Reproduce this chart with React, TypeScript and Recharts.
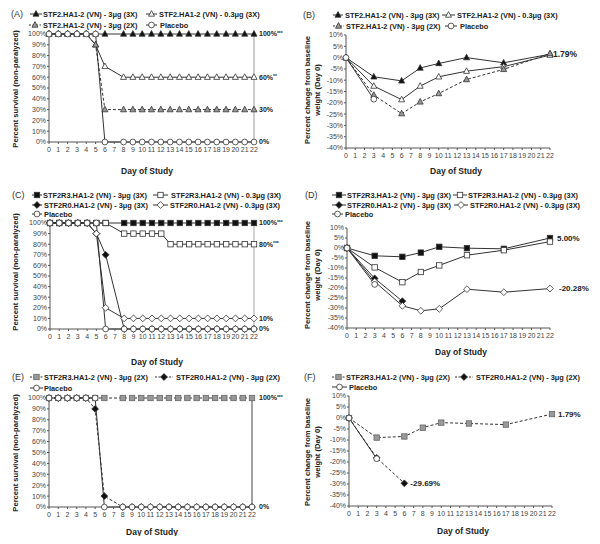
import React from 'react';
import { LineChart, Line, XAxis, YAxis, ReferenceLine } from 'recharts';

const survivalDays = [0, 1, 2, 3, 4, 5, 6, 8, 9, 10, 11, 12, 13, 14, 15, 16, 17, 18, 19, 20, 21, 22];
const weightDays = [0, 3, 6, 8, 10, 13, 17, 22];
const dayTicks = [0, 1, 2, 3, 4, 5, 6, 7, 8, 9, 10, 11, 12, 13, 14, 15, 16, 17, 18, 19, 20, 21, 22];
const survivalTicks = [0, 10, 20, 30, 40, 50, 60, 70, 80, 90, 100];
const weightTicks = [-40, -35, -30, -25, -20, -15, -10, -5, 0, 5, 10];

// (A) survival, STF2.HA1-2
const aHigh3x = [100, 100, 100, 100, 100, 100, 100, 100, 100, 100, 100, 100, 100, 100, 100, 100, 100, 100, 100, 100, 100, 100];
const aLow3x = [100, 100, 100, 100, 100, 90, 70, 60, 60, 60, 60, 60, 60, 60, 60, 60, 60, 60, 60, 60, 60, 60];
const aHigh2x = [100, 100, 100, 100, 100, 90, 30, 30, 30, 30, 30, 30, 30, 30, 30, 30, 30, 30, 30, 30, 30, 30];
const aPlacebo = [100, 100, 100, 100, 100, 100, 0, 0, 0, 0, 0, 0, 0, 0, 0, 0, 0, 0, 0, 0, 0, 0];

// (B) weight change, STF2.HA1-2
const bHigh3x = [0, -8.5, -10.3, -4.6, -2.6, 0, -2.3, 1.5];
const bLow3x = [0, -12.6, -18.6, -12.6, -8.5, -6, -4, 1.1];
const bHigh2x = [0, -16.6, -24.8, -19.6, -15.9, -9.7, -5.2, 1.79];
const bPlacebo = [0, -18.4];

// (C) survival, STF2R3 / STF2R0
const cR3High = [100, 100, 100, 100, 100, 100, 100, 100, 100, 100, 100, 100, 100, 100, 100, 100, 100, 100, 100, 100, 100, 100];
const cR3Low = [100, 100, 100, 100, 100, 100, 100, 90, 90, 90, 90, 90, 80, 80, 80, 80, 80, 80, 80, 80, 80, 80];
const cR0High = [100, 100, 100, 100, 100, 90, 70, 0, 0, 0, 0, 0, 0, 0, 0, 0, 0, 0, 0, 0, 0, 0];
const cR0Low = [100, 100, 100, 100, 100, 90, 20, 10, 10, 10, 10, 10, 10, 10, 10, 10, 10, 10, 10, 10, 10, 10];
const cPlacebo = [100, 100, 100, 100, 100, 100, 0, 0, 0, 0, 0, 0, 0, 0, 0, 0, 0, 0, 0, 0, 0, 0];

// (D) weight change, STF2R3 / STF2R0
const dR3High = [0, -3.9, -4.4, -2.3, 0.6, -0.1, -0.4, 5.0];
const dR3Low = [0, -9.7, -17.1, -12, -8.7, -3.6, -1.1, 3.2];
const dR0High = [0, -15.2, -26.6];
const dR0Low = [0, -16.8, -28.9, -31.4, -30.4, -20.6, -22.1, -20.28];
const dPlacebo = [0, -18.2];

// (E) survival, 2X
const eR3 = [100, 100, 100, 100, 100, 100, 100, 100, 100, 100, 100, 100, 100, 100, 100, 100, 100, 100, 100, 100, 100, 100];
const eR0 = [100, 100, 100, 100, 100, 90, 10, 0, 0, 0, 0, 0, 0, 0, 0, 0, 0, 0, 0, 0, 0, 0];
const ePlacebo = [100, 100, 100, 100, 100, 100, 0, 0, 0, 0, 0, 0, 0, 0, 0, 0, 0, 0, 0, 0, 0, 0];

// (F) weight change, 2X
const fR3 = [0, -8.9, -8.4, -4.4, -2.1, -2.5, -3.0, 1.79];
const fR0 = [0, -18.1, -29.69];
const fPlacebo = [0, -18.5];

const FONT = '"Liberation Sans", Arial, sans-serif';
const INK = '#222';

const rows = (days: number[], vals: number[]) => vals.map((v, i) => ({ day: days[i], v }));

function Mark({ cx, cy, kind }: { cx: number; cy: number; kind: string }) {
  if (cx == null || cy == null) return null;
  const line = '#333';
  if (kind.startsWith('tri')) {
    const fill = kind === 'triF' ? '#111' : kind === 'triG' ? '#999' : '#fff';
    return <polygon points={`${cx},${cy - 3.4} ${cx - 3},${cy + 2.2} ${cx + 3},${cy + 2.2}`} fill={fill} stroke={line} strokeWidth={0.8} />;
  }
  if (kind.startsWith('sq')) {
    const fill = kind === 'sqF' ? '#111' : kind === 'sqG' ? '#999' : '#fff';
    return <rect x={cx - 2.7} y={cy - 2.7} width={5.4} height={5.4} fill={fill} stroke={kind === 'sqG' ? '#666' : line} strokeWidth={0.8} />;
  }
  if (kind.startsWith('dia')) {
    const fill = kind === 'diaF' ? '#111' : '#fff';
    return <polygon points={`${cx},${cy - 3.4} ${cx + 3.4},${cy} ${cx},${cy + 3.4} ${cx - 3.4},${cy}`} fill={fill} stroke={line} strokeWidth={0.8} />;
  }
  return <circle cx={cx} cy={cy} r={2.9} fill="#fff" stroke={line} strokeWidth={0.8} />;
}

type Series = { data: { day: number; v: number }[]; kind: string; dash?: boolean; end?: string; endDx?: number };
type LegendItem = { x0: number; x1: number; tx: number; y: number; kind: string; dash?: boolean; text: string };

type PanelProps = {
  left: number; top: number; h: number; letter: string; letterX: number; letterY: number;
  plot: { left: number; right: number; top: number; bottom: number };
  survival: boolean; series: Series[]; legend: LegendItem[];
  yTitle: string[]; yTitleX: number[]; yTitleY: number;
  xTitleX: number; xTitleY: number; refLine?: string; endSize: number;
};

function EndLabel({ x, y, text, dx, size }: { x: number; y: number; text: string; dx: number; size: number }) {
  const stars = text.match(/\*+$/);
  const main = stars ? text.slice(0, text.length - stars[0].length) : text;
  return (
    <text x={x + dx} y={y} dy={size * 0.35} fontSize={size} fontWeight="bold" fill={INK} fontFamily={FONT}>
      {main}
      {stars ? <tspan fontSize={size * 0.7} dy={-size * 0.25}>{stars[0]}</tspan> : null}
    </text>
  );
}

function Panel(p: PanelProps) {
  const W = 300;
  const tickStyle = { fontSize: 7, fill: '#444', fontFamily: FONT };
  return (
    <div style={{ position: 'absolute', left: p.left, top: p.top, width: W, height: p.h }}>
      <LineChart width={W} height={p.h} margin={{ top: p.plot.top, right: W - p.plot.right, bottom: p.h - p.plot.bottom - 20, left: 0 }}>
        <XAxis dataKey="day" type="number" domain={[0, 22]} ticks={dayTicks} interval={0} tick={tickStyle}
          tickSize={2} tickMargin={3} height={20} axisLine={{ stroke: '#555' }} tickLine={{ stroke: '#555' }} allowDuplicatedCategory={false} />
        <YAxis type="number" width={p.plot.left} domain={p.survival ? [0, 100] : [-40, 10]}
          ticks={p.survival ? survivalTicks : weightTicks} interval={0} tick={tickStyle} tickSize={2} tickMargin={1}
          axisLine={{ stroke: '#555' }} tickLine={{ stroke: '#555' }} tickFormatter={(v: number) => `${v}%`} />
        {p.refLine ? <ReferenceLine x={22} stroke={p.refLine} strokeWidth={1} /> : null}
        {p.series.map((s, si) => (
          <Line key={si} data={s.data} dataKey="v" type="linear" stroke="#333" strokeWidth={1}
            strokeDasharray={s.dash ? '3 2' : undefined} isAnimationActive={false}
            dot={(d: any) => <Mark key={`d${si}-${d.index}`} cx={d.cx} cy={d.cy} kind={s.kind} />}
            activeDot={false}
            label={s.end ? (l: any) => (l.index === s.data.length - 1 ?
              <EndLabel key={`l${si}`} x={l.x} y={l.y} text={s.end as string} dx={s.endDx ?? 5} size={p.endSize} /> : null) : undefined} />
        ))}
      </LineChart>
      <svg width={W} height={p.h + 10} style={{ position: 'absolute', left: 0, top: 0, pointerEvents: 'none', overflow: 'visible' }}>
        <text x={p.letterX} y={p.letterY} dy={3.2} fontSize={9} fill="#333" fontFamily={FONT}>{p.letter}</text>
        {p.legend.map((g, i) => (
          <g key={i}>
            <line x1={g.x0} x2={g.x1} y1={g.y} y2={g.y} stroke="#333" strokeWidth={1} strokeDasharray={g.dash ? '2 1.5' : undefined} />
            <Mark cx={(g.x0 + g.x1) / 2} cy={g.y} kind={g.kind} />
            <text x={g.tx} y={g.y} dy={2.6} fontSize={7.4} fontWeight="bold" fill={INK} fontFamily={FONT}>{g.text}</text>
          </g>
        ))}
        {p.yTitle.map((t, i) => (
          <text key={i} transform={`translate(${p.yTitleX[i]},${p.yTitleY}) rotate(-90)`} textAnchor="middle" dy={2.6}
            fontSize={7.6} fontWeight="bold" fill={INK} fontFamily={FONT}>{t}</text>
        ))}
        <text x={p.xTitleX} y={p.xTitleY} dy={3} textAnchor="middle" fontSize={8.5} fontWeight="bold" fill={INK} fontFamily={FONT}>Day of Study</text>
      </svg>
    </div>
  );
}

const n3x = 'STF2.HA1-2 (VN) - 3\u03bcg (3X)';
const n03x = 'STF2.HA1-2 (VN) - 0.3\u03bcg (3X)';
const n2x = 'STF2.HA1-2 (VN) - 3\u03bcg (2X)';
const r3High = 'STF2R3.HA1-2 (VN) - 3\u03bcg (3X)';
const r3Low = 'STF2R3.HA1-2 (VN) - 0.3\u03bcg (3X)';
const r0High = 'STF2R0.HA1-2 (VN) - 3\u03bcg (3X)';
const r0Low = 'STF2R0.HA1-2 (VN) - 0.3\u03bcg (3X)';
const r3_2x = 'STF2R3.HA1-2 (VN) - 3\u03bcg (2X)';
const r0_2x = 'STF2R0.HA1-2 (VN) - 3\u03bcg (2X)';
const survTitle = ['Percent survival (non-paralyzed)'];
const weightTitle = ['Percent change from baseline', 'weight (Day 0)'];

export default function App() {
  return (
    <div style={{ position: 'relative', width: 600, height: 544, background: '#fff', margin: -8, overflow: 'hidden' }}>
      <Panel left={0} top={0} h={180} letter="(A)" letterX={11} letterY={14}
        plot={{ left: 49, right: 254, top: 34, bottom: 142 }} survival refLine="#999" endSize={7}
        series={[
          { data: rows(survivalDays, aHigh3x), kind: 'triF', end: '100%***' },
          { data: rows(survivalDays, aLow3x), kind: 'triO', end: '60%**' },
          { data: rows(survivalDays, aHigh2x), kind: 'triG', dash: true, end: '30%' },
          { data: rows(survivalDays, aPlacebo), kind: 'cir', end: '0%' },
        ]}
        legend={[
          { x0: 30, x1: 42, tx: 43, y: 14, kind: 'triF', text: n3x },
          { x0: 146, x1: 157, tx: 159, y: 14, kind: 'triO', text: n03x },
          { x0: 29, x1: 41, tx: 43, y: 25, kind: 'triG', dash: true, text: n2x },
          { x0: 146, x1: 157, tx: 160, y: 25, kind: 'cir', text: 'Placebo' },
        ]}
        yTitle={survTitle} yTitleX={[15]} yTitleY={89} xTitleX={147} xTitleY={171} />
      <Panel left={300} top={0} h={180} letter="(B)" letterX={3} letterY={15}
        plot={{ left: 46, right: 250, top: 35, bottom: 148 }} survival={false} endSize={8.5}
        series={[
          { data: rows(weightDays, bHigh3x), kind: 'triF' },
          { data: rows(weightDays, bLow3x), kind: 'triO' },
          { data: rows(weightDays, bHigh2x), kind: 'triG', dash: true, end: '1.79%', endDx: 3 },
          { data: rows(weightDays, bPlacebo), kind: 'cir' },
        ]}
        legend={[
          { x0: 33, x1: 43, tx: 45, y: 15, kind: 'triF', text: n3x },
          { x0: 142, x1: 155, tx: 157, y: 15, kind: 'triO', text: n03x },
          { x0: 33, x1: 44, tx: 46, y: 26, kind: 'triG', dash: true, text: n2x },
          { x0: 145, x1: 157, tx: 160, y: 26, kind: 'cir', text: 'Placebo' },
        ]}
        yTitle={weightTitle} yTitleX={[7, 17]} yTitleY={90} xTitleX={156} xTitleY={171} />
      <Panel left={0} top={180} h={180} letter="(C)" letterX={12} letterY={15}
        plot={{ left: 50, right: 254, top: 43, bottom: 149 }} survival refLine="#aaa" endSize={7}
        series={[
          { data: rows(survivalDays, cR3High), kind: 'sqF', end: '100%***' },
          { data: rows(survivalDays, cR3Low), kind: 'sqO', end: '80%***' },
          { data: rows(survivalDays, cR0High), kind: 'diaF' },
          { data: rows(survivalDays, cR0Low), kind: 'diaO', end: '10%' },
          { data: rows(survivalDays, cPlacebo), kind: 'cir', end: '0%' },
        ]}
        legend={[
          { x0: 32, x1: 42, tx: 43, y: 15, kind: 'sqF', text: r3High },
          { x0: 153, x1: 168, tx: 171, y: 15, kind: 'sqO', text: r3Low },
          { x0: 32, x1: 42, tx: 44, y: 25, kind: 'diaF', text: r0High },
          { x0: 153, x1: 168, tx: 170, y: 25, kind: 'diaO', text: r0Low },
          { x0: 32, x1: 42, tx: 44, y: 34, kind: 'cir', text: 'Placebo' },
        ]}
        yTitle={survTitle} yTitleX={[15]} yTitleY={92} xTitleX={157} xTitleY={182} />
      <Panel left={300} top={180} h={180} letter="(D)" letterX={5} letterY={15}
        plot={{ left: 47, right: 250, top: 48, bottom: 148 }} survival={false} endSize={8}
        series={[
          { data: rows(weightDays, dR3High), kind: 'sqF', end: '5.00%', endDx: 7 },
          { data: rows(weightDays, dR3Low), kind: 'sqO' },
          { data: rows(weightDays, dR0High), kind: 'diaF' },
          { data: rows(weightDays, dR0Low), kind: 'diaO', end: '-20.28%', endDx: 9 },
          { data: rows(weightDays, dPlacebo), kind: 'cir' },
        ]}
        legend={[
          { x0: 32, x1: 46, tx: 47, y: 15, kind: 'sqF', text: r3High },
          { x0: 153, x1: 167, tx: 168, y: 15, kind: 'sqO', text: r3Low },
          { x0: 32, x1: 46, tx: 47, y: 25, kind: 'diaF', text: r0High },
          { x0: 154, x1: 168, tx: 170, y: 25, kind: 'diaO', text: r0Low },
          { x0: 32, x1: 43, tx: 45, y: 34, kind: 'cir', text: 'Placebo' },
        ]}
        yTitle={weightTitle} yTitleX={[7, 17]} yTitleY={95} xTitleX={161} xTitleY={172} />
      <Panel left={0} top={360} h={184} letter="(E)" letterX={12} letterY={17}
        plot={{ left: 49, right: 252, top: 38, bottom: 147 }} survival refLine="#444" endSize={7}
        series={[
          { data: rows(survivalDays, eR3), kind: 'sqG', dash: true, end: '100%***', endDx: 7 },
          { data: rows(survivalDays, eR0), kind: 'diaF', dash: true },
          { data: rows(survivalDays, ePlacebo), kind: 'cir', end: '0%', endDx: 7 },
        ]}
        legend={[
          { x0: 30, x1: 43, tx: 44, y: 17, kind: 'sqG', dash: true, text: r3_2x },
          { x0: 155, x1: 173, tx: 176, y: 17, kind: 'diaF', dash: true, text: r0_2x },
          { x0: 30, x1: 43, tx: 44, y: 28, kind: 'cir', text: 'Placebo' },
        ]}
        yTitle={survTitle} yTitleX={[15]} yTitleY={93} xTitleX={152} xTitleY={172} />
      <Panel left={300} top={360} h={184} letter="(F)" letterX={4} letterY={17}
        plot={{ left: 49, right: 252, top: 36, bottom: 146 }} survival={false} endSize={8}
        series={[
          { data: rows(weightDays, fR3), kind: 'sqG', dash: true, end: '1.79%', endDx: 6 },
          { data: rows(weightDays, fR0), kind: 'diaF', dash: true, end: '-29.69%', endDx: 6 },
          { data: rows(weightDays, fPlacebo), kind: 'cir' },
        ]}
        legend={[
          { x0: 32, x1: 45, tx: 46, y: 17, kind: 'sqG', dash: true, text: r3_2x },
          { x0: 155, x1: 173, tx: 176, y: 17, kind: 'diaF', dash: true, text: r0_2x },
          { x0: 32, x1: 47, tx: 49, y: 27, kind: 'cir', text: 'Placebo' },
        ]}
        yTitle={weightTitle} yTitleX={[7, 17]} yTitleY={92} xTitleX={163} xTitleY={171} />
    </div>
  );
}
